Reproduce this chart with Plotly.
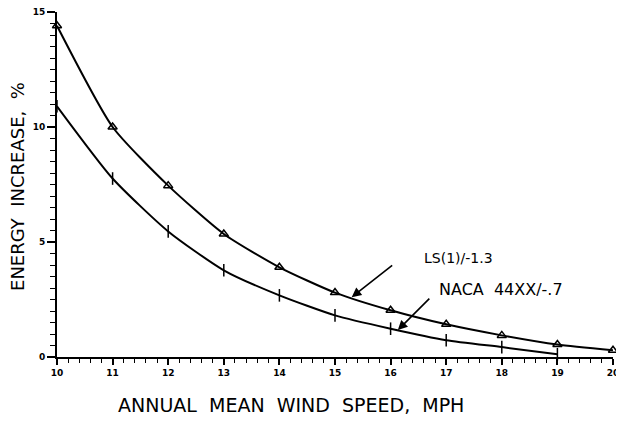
import plotly.graph_objects as go

speed_ls = [10, 11, 12, 13, 14, 15, 16, 17, 18, 19, 20]
ls_values = [14.4, 10.0, 7.45, 5.35, 3.9, 2.8, 2.03, 1.42, 0.94, 0.54, 0.29]

speed_naca = [10, 11, 12, 13, 14, 15, 16, 17, 18, 19]
naca_values = [10.9, 7.76, 5.46, 3.77, 2.68, 1.81, 1.23, 0.73, 0.43, 0.12]

x_ticks = [10, 11, 12, 13, 14, 15, 16, 17, 18, 19, 20]
y_ticks = [0, 5, 10, 15]

FONT = "DejaVu Sans"

fig = go.Figure()
fig.add_trace(go.Scatter(
    x=speed_ls, y=ls_values, mode="lines+markers",
    line=dict(color="black", width=2, shape="spline", smoothing=0.6),
    marker=dict(symbol="triangle-up-open", size=8, color="black", line=dict(width=1.5)),
    showlegend=False, cliponaxis=False))
fig.add_trace(go.Scatter(
    x=speed_naca, y=naca_values, mode="lines+markers",
    line=dict(color="black", width=2, shape="spline", smoothing=0.6),
    marker=dict(symbol="line-ns-open", size=9, color="black", line=dict(width=1.5)),
    showlegend=False, cliponaxis=False))

fig.add_annotation(x=15.3, y=2.6, xref="x", yref="y", ax=42, ay=-33, axref="pixel", ayref="pixel",
                   text="", showarrow=True, arrowhead=2, arrowsize=1.2, arrowwidth=1.6, arrowcolor="black")
fig.add_annotation(x=16.13, y=1.17, xref="x", yref="y", ax=33, ay=-33, axref="pixel", ayref="pixel",
                   text="", showarrow=True, arrowhead=2, arrowsize=1.2, arrowwidth=1.6, arrowcolor="black")
fig.add_annotation(x=0.656, y=0.287, xref="paper", yref="paper", text="LS(1)/-1.3", showarrow=False,
                   xanchor="left", yanchor="middle", font=dict(size=14, color="black", family=FONT))
fig.add_annotation(x=0.683, y=0.197, xref="paper", yref="paper", text="NACA  44XX/-.7", showarrow=False,
                   xanchor="left", yanchor="middle", font=dict(size=16, color="black", family=FONT))

fig.add_annotation(x=0.421, y=-0.139, xref="paper", yref="paper", text="ANNUAL  MEAN  WIND  SPEED,  MPH",
                   showarrow=False, yanchor="middle", font=dict(size=19, color="black", family=FONT))
fig.add_annotation(x=-0.07, y=0.493, xref="paper", yref="paper", text="ENERGY  INCREASE,  %",
                   showarrow=False, textangle=-90, xanchor="center", yanchor="middle",
                   font=dict(size=18, color="black", family=FONT))

fig.update_layout(
    width=616, height=421,
    margin=dict(l=49, r=11, t=4, b=72),
    paper_bgcolor="white", plot_bgcolor="white",
    font=dict(family=FONT, color="black"),
    xaxis=dict(range=[10, 20], tickvals=x_ticks, ticktext=[str(v) for v in x_ticks], automargin=False,
               ticklabeloverflow="allow",
               showgrid=False, zeroline=False, showline=True, linecolor="black", linewidth=2,
               ticks="outside", ticklen=6, tickwidth=1.5, tickcolor="black",
               tickfont=dict(size=9, family=FONT, color="black", weight="bold"),
               minor=dict(dtick=0.2, ticks="outside", ticklen=4, tickwidth=1.2, tickcolor="black", showgrid=False)),
    yaxis=dict(range=[0, 15], tickvals=y_ticks, ticktext=[str(v) for v in y_ticks], automargin=False,
               ticklabeloverflow="allow",
               showgrid=False, zeroline=False, showline=True, linecolor="black", linewidth=2,
               ticks="outside", ticklen=8, tickwidth=1.5, tickcolor="black",
               tickfont=dict(size=9, family=FONT, color="black", weight="bold"),
               minor=dict(dtick=0.5, ticks="outside", ticklen=5, tickwidth=1.2, tickcolor="black", showgrid=False)),
)

fig.write_html("out.html")
